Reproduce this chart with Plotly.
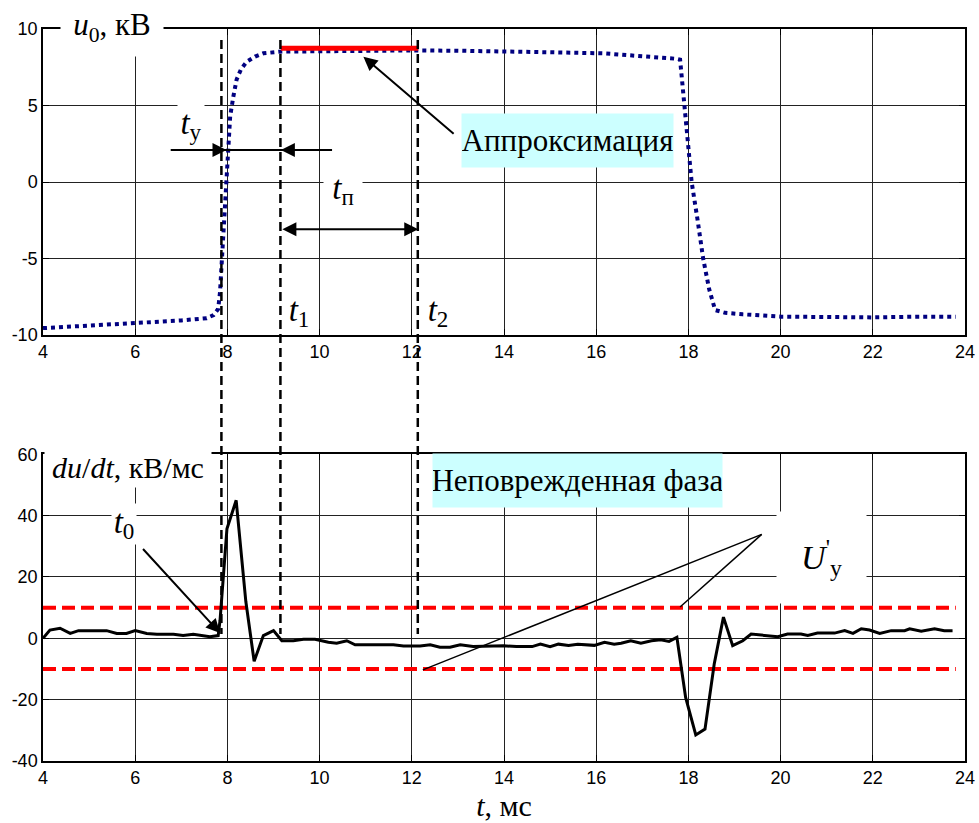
import plotly.graph_objects as go

# ---------------- data ----------------
# upper panel: phase voltage u0, kV
u_t = [4.0, 5.0, 6.0, 7.0, 7.55, 7.7, 7.8, 7.84, 7.88, 7.95, 8.0, 8.06, 8.13, 8.2, 8.3,
       8.42, 8.6, 8.78, 9.14, 10.0, 11.0, 12.0, 13.0, 14.0, 15.0, 16.15, 17.0, 17.75,
       17.82, 17.91, 18.07, 18.2, 18.32, 18.45, 18.58, 18.8, 19.18, 20.0, 21.0, 22.0, 23.0, 23.8]
u_v = [-9.55, -9.4, -9.24, -9.05, -8.9, -8.7, -8.3, -7.2, -5.1, -1.2, 2.1, 4.3, 5.6, 6.7, 7.4,
       7.86, 8.2, 8.41, 8.52, 8.56, 8.58, 8.6, 8.58, 8.5, 8.48, 8.41, 8.25, 8.05,
       8.0, 5.0, 0.0, -2.5, -5.0, -7.0, -8.37, -8.55, -8.65, -8.8, -8.85, -8.85, -8.8, -8.8]

# approximation segment
approx_t = [9.16, 12.14]
approx_v = [8.74, 8.74]

# lower panel: du/dt, kV/ms
d_t = [4.0, 4.15, 4.37, 4.59, 4.77, 5.38, 5.6, 5.81, 6.0, 6.25, 6.47, 6.83, 7.04, 7.26, 7.62,
       7.8, 7.84, 7.99, 8.19, 8.4, 8.58, 8.78, 9.0, 9.18, 9.43, 9.65, 9.9, 10.19, 10.37, 10.59,
       10.77, 11.09, 11.38, 11.6, 11.82, 12.18, 12.4, 12.61, 12.83, 13.05, 13.33, 13.7, 13.99,
       14.27, 14.61, 14.79, 15.0, 15.18, 15.4, 15.6, 15.96, 16.18, 16.39, 16.54, 16.75, 16.97,
       17.2, 17.4, 17.58, 17.75, 17.94, 18.16, 18.36, 18.56, 18.76, 18.96, 19.18, 19.36, 19.65,
       19.94, 20.15, 20.44, 20.59, 20.8, 21.17, 21.39, 21.57, 21.75, 21.93, 22.15, 22.4, 22.69,
       22.8, 23.05, 23.34, 23.55, 23.73]
d_v = [0.0, 2.7, 3.3, 1.6, 2.5, 2.5, 1.6, 1.6, 2.5, 1.6, 1.3, 1.3, 0.9, 1.3, 0.5,
       0.9, 5.8, 35.7, 45.0, 12.0, -7.5, 0.9, 2.5, -0.8, -0.8, -0.3, -0.3, -1.3, -1.6, -0.8,
       -2.1, -2.1, -2.3, -2.1, -2.5, -2.5, -2.1, -2.9, -2.9, -2.1, -2.7, -2.4, -2.4,
       -2.7, -2.7, -1.9, -2.7, -1.9, -2.3, -1.9, -2.3, -1.3, -1.9, -1.6, -0.8, -1.6,
       -0.8, -0.5, -1.0, 0.3, -19.3, -31.5, -29.6, -8.4, 6.9, -2.4, -0.8, 1.4, 0.9,
       0.5, 1.4, 1.4, 0.9, 1.7, 1.7, 2.5, 1.6, 3.1, 2.7, 1.6, 2.5, 2.5,
       3.1, 2.3, 3.1, 2.5, 2.5]

# thresholds U'y
thr_t = [4.0, 23.8]
thr_hi = [10, 10]
thr_lo = [-10, -10]

# marker times
t_y_mark = 7.87   # start (t_y / t0)
t1_mark = 9.15
t2_mark = 12.13

x_ticks = [4, 6, 8, 10, 12, 14, 16, 18, 20, 22, 24]
x_ticktext = ["4", "6", "8", "10", "12", "14", "16", "18", "20", "22", "24"]
u_ticks = [-10, -5, 0, 5, 10]
u_ticktext = ["-10", "-5", "0", "5", "10"]
d_ticks = [-40, -20, 0, 20, 40, 60]
d_ticktext = ["-40", "-20", "0", "20", "40", "60"]

# ---------------- layout geometry ----------------
W, H = 979, 823
ML, MR, MT, MB = 43, 14, 29, 62
PW, PH = W - ML - MR, H - MT - MB


def px(xp):
    return (xp - ML) / PW


def py(yp):
    return (H - MB - yp) / PH


SERIF = "Liberation Serif, Times New Roman, serif"
SANS = "Liberation Sans, Arial, sans-serif"

fig = go.Figure()

fig.add_trace(go.Scatter(x=u_t, y=u_v, mode="lines", xaxis="x", yaxis="y",
                         line=dict(color="#000080", width=4, dash="dot"), showlegend=False))
fig.add_trace(go.Scatter(x=approx_t, y=approx_v, mode="lines", xaxis="x", yaxis="y",
                         line=dict(color="#ff0000", width=5), showlegend=False))
fig.add_trace(go.Scatter(x=thr_t, y=thr_hi, mode="lines", xaxis="x2", yaxis="y2",
                         line=dict(color="#ff0000", width=4, dash="13px,6px"), showlegend=False))
fig.add_trace(go.Scatter(x=thr_t, y=thr_lo, mode="lines", xaxis="x2", yaxis="y2",
                         line=dict(color="#ff0000", width=4, dash="13px,6px"), showlegend=False))
fig.add_trace(go.Scatter(x=d_t, y=d_v, mode="lines", xaxis="x2", yaxis="y2",
                         line=dict(color="black", width=3), showlegend=False))

axis_common = dict(showgrid=True, gridcolor="#222", gridwidth=1, zeroline=False,
                   showline=True, linecolor="black", linewidth=1.5, mirror="allticks",
                   ticks="inside", ticklen=6, tickcolor="black", automargin=False,
                   tickfont=dict(family=SANS, size=18, color="black"))

fig.update_layout(
    width=W, height=H,
    margin=dict(l=ML, r=MR, t=MT, b=MB, autoexpand=False),
    paper_bgcolor="white", plot_bgcolor="white",
    xaxis=dict(domain=[0, 1], range=[4, 24], tickvals=x_ticks, ticktext=x_ticktext,
               anchor="y", **axis_common),
    yaxis=dict(domain=[py(335), 1], range=[-10, 10], tickvals=u_ticks, ticktext=u_ticktext,
               anchor="x", **axis_common),
    xaxis2=dict(domain=[0, 1], range=[4, 24], tickvals=x_ticks, ticktext=x_ticktext, anchor="y2",
                title=dict(text="<i>t</i>, мс", font=dict(family=SERIF, size=30, color="black"),
                           standoff=8),
                **axis_common),
    yaxis2=dict(domain=[0, py(454.3)], range=[-40, 60], tickvals=d_ticks, ticktext=d_ticktext,
                anchor="x2", **axis_common),
)

# vertical dashed marker lines spanning both panels
for xm in [t_y_mark, t1_mark, t2_mark]:
    fig.add_shape(type="line", xref="x", yref="paper", x0=xm, x1=xm, y0=py(40), y1=py(634),
                  line=dict(color="black", width=2.5, dash="9px,5px"))

# t_y line and arrows
fig.add_shape(type="line", xref="x", yref="y", x0=6.77, x1=10.27, y0=2.09, y1=2.09,
              line=dict(color="black", width=2))

arrow_kw = dict(showarrow=True, arrowhead=2, arrowsize=1.4, arrowwidth=2, arrowcolor="black",
                text="", standoff=0)
fig.add_annotation(x=7.98, y=2.09, ax=6.77, ay=2.09, xref="x", yref="y", axref="x", ayref="y", **arrow_kw)
fig.add_annotation(x=9.16, y=2.09, ax=10.27, ay=2.09, xref="x", yref="y", axref="x", ayref="y", **arrow_kw)
# t_p double arrow
fig.add_annotation(x=12.14, y=-3.09, ax=9.16, ay=-3.09, xref="x", yref="y", axref="x", ayref="y",
                   arrowside="end+start", startarrowhead=2, startarrowsize=1.4, **arrow_kw)
# approximation arrow
fig.add_annotation(x=10.95, y=8.19, ax=12.94, ay=3.07, xref="x", yref="y", axref="x", ayref="y", **arrow_kw)
# t0 arrow
fig.add_annotation(x=7.84, y=1.7, ax=6.14, ay=29.6, xref="x2", yref="y2", axref="x2", ayref="y2", **arrow_kw)

# U'y pointer lines
fig.add_shape(type="line", xref="x2", yref="y2", x0=19.59, y0=33.9, x1=17.82, y1=10.2,
              line=dict(color="black", width=1.5))
fig.add_shape(type="line", xref="x2", yref="y2", x0=19.59, y0=33.9, x1=12.24, y1=-10.3,
              line=dict(color="black", width=1.5))


def label(text, cx, cy, w, h, size, bg="white"):
    fig.add_annotation(x=px(cx), y=py(cy), xref="paper", yref="paper", text=text,
                       showarrow=False, xanchor="center", yanchor="middle",
                       width=w, height=h, bgcolor=bg, borderpad=0, align="center",
                       font=dict(family=SERIF, size=size, color="black"))


label("<i>u</i><sub>0</sub>, кВ", 112, 27, 102, 58, 31)
label("<i>t</i><sub>у</sub>", 191, 125, 26, 46, 33)
label("<i>t</i><sub>п</sub>", 343, 190, 38, 44, 33)
label("<i>t</i><sub>1</sub>", 299, 312, 28, 40, 33, None)
label("<i>t</i><sub>2</sub>", 438, 312, 28, 40, 33, None)
label("Аппроксимация", 567, 140, 211, 53, 31, "#ccffff")
label("<i>du</i>/<i>dt</i>, кВ/мс", 128, 467, 166, 40, 30)
label("<i>t</i><sub>0</sub>", 123.5, 523.5, 24, 40, 33)
label("Неповрежденная фаза", 577, 480, 289, 53, 31, "#ccffff")
label("<i>U</i><sup>'</sup><sub>у</sub>", 821, 557, 89, 91, 34)

fig.write_html("out.html", config={"displayModeBar": False},
               post_script="document.body.style.margin='0';")
